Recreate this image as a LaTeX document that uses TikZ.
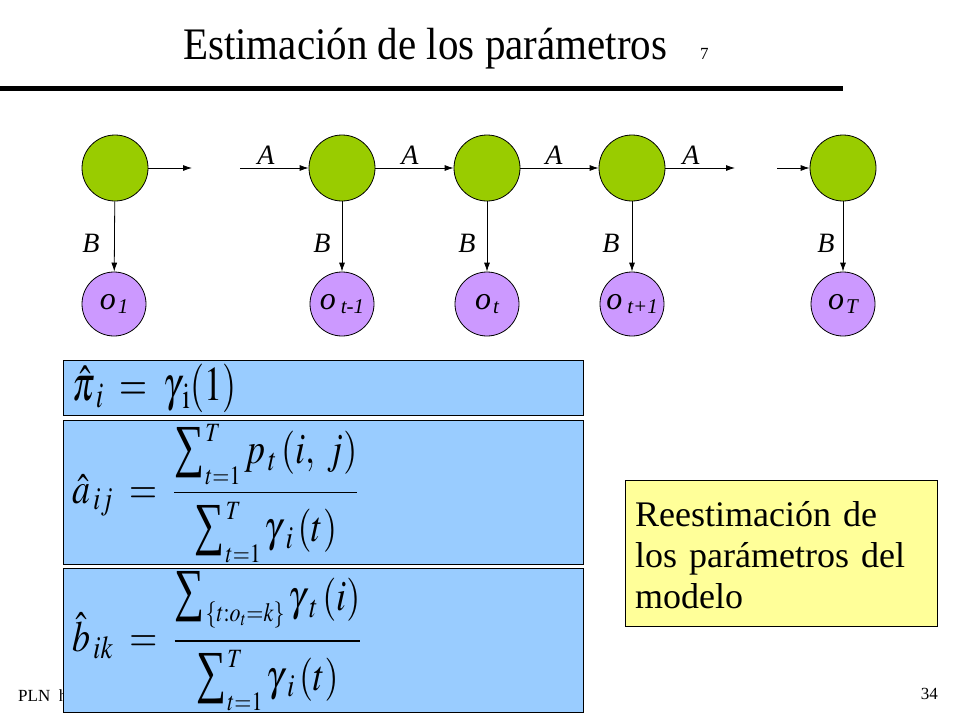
\documentclass[tikz,border=0pt]{standalone}
\usepackage{mathptmx}
\usepackage{fontspec}
\setmainfont{Liberation Serif}
\usetikzlibrary{arrows.meta}
\definecolor{hgreen}{HTML}{99CC00}
\definecolor{opurple}{HTML}{CC99FF}
\definecolor{mblue}{HTML}{99CCFF}
\definecolor{yel}{HTML}{FFFF99}
\newcommand\olab[2]{\textit{o}\hspace{#2pt}\raisebox{-0.3ex}{\fontsize{21}{21}\selectfont\itshape #1}}
\newsavebox\sumbox
\newcommand\SumLim[2]{\mathop{\vcenter{\hbox{%
  \sbox\sumbox{\resizebox*{30pt}{42pt}{∑}}%
  \usebox\sumbox\kern1pt
  \raisebox{-\dp\sumbox}{\vbox to \dimexpr\ht\sumbox+\dp\sumbox\relax{\vskip-3pt\hbox{\fontsize{22}{22}\selectfont$#2$}\vfil\hbox{\fontsize{22}{22}\selectfont$#1$}}}%
}}}}
\begin{document}
\begin{tikzpicture}[x=1pt,y=-1pt,
  hid/.style={circle, draw, line width=0.8pt, fill=hgreen, minimum size=66pt, inner sep=0pt},
  obs/.style={circle, draw, line width=0.8pt, fill=opurple, minimum size=64pt, inner sep=0pt, font=\fontsize{32}{32}\selectfont},
  arr/.style={line width=0.8pt, -{Latex[length=9pt,width=6pt]}},
  lab/.style={font=\fontsize{28}{28}\selectfont\itshape, inner sep=0pt, anchor=base},
  mbox/.style={draw, line width=0.8pt, fill=mblue, anchor=north west, minimum width=520pt, inner sep=0pt},
  mtext/.style={font=\fontsize{36}{36}\selectfont, inner sep=0pt, anchor=west}]
\useasboundingbox (0,0) rectangle (960,720);
% title
\node[font=\fontsize{41}{41}\selectfont, anchor=base west, inner sep=0pt] (title) at (183,59) {\scalebox{1}[1.1]{Estimación de los parámetros}};
\node[font=\fontsize{17}{17}\selectfont, anchor=base west, inner sep=0pt] (tnum) at (700,59) {7};
\draw[line width=5pt] (0,88) -- (843,88);
% hidden states
\node[hid] (h1) at (115,168) {};
\node[hid] (h2) at (342,168) {};
\node[hid] (h3) at (487,168) {};
\node[hid] (h4) at (632,168) {};
\node[hid] (h5) at (843,168) {};
% observations
\node[obs] (o1) at (114,304) {\olab{1}{2}};
\node[obs] (o2) at (342,304) {\olab{t-1}{5}};
\node[obs] (o3) at (487,304) {\olab{t}{2}};
\node[obs] (o4) at (632,304) {\olab{t+1}{5}};
\node[obs] (o5) at (843,304) {\olab{T}{2}};
% free ends
\coordinate (e1) at (192,168);
\coordinate (s2) at (240,168);
\coordinate (e4) at (735,168);
\coordinate (s5) at (777,168);
\draw[arr] (h1) -- (e1);
\draw[arr] (s2) -- (h2);
\draw[arr] (h2) -- (h3);
\draw[arr] (h3) -- (h4);
\draw[arr] (h4) -- (e4);
\draw[arr] (s5) -- (h5);
\foreach \i in {1,...,5} { \draw[arr] (h\i) -- (o\i); }
\node[lab] (a1) at (266,164) {A};
\node[lab] (a2) at (410,164) {A};
\node[lab] (a3) at (554,164) {A};
\node[lab] (a4) at (691,164) {A};
\node[lab] (b1) at (91,252) {B};
\node[lab] (b2) at (322,252) {B};
\node[lab] (b3) at (467,252) {B};
\node[lab] (b4) at (611,252) {B};
\node[lab] (b5) at (826,252) {B};
% footer
\node[font=\fontsize{17}{17}\selectfont, anchor=base west, inner sep=0pt] (foot) at (18,701) {PLN\ \ h};
\node[font=\fontsize{17}{17}\selectfont, anchor=base east, inner sep=0pt] (page) at (938,699) {34};
% formula boxes
\node[mbox, minimum height=55pt] (box1) at (63,360) {};
\node[mbox, minimum height=144pt] (box2) at (63,420) {};
\node[mbox, minimum height=144pt] (box3) at (63,568) {};
\node[mtext] (f1) at (72,388) {\scalebox{1}[1.35]{$\hat{\pi}_{\kern4pt i} \;=\; \gamma_{\kern4pt\mathrm{i}}(1)$}};
\node[mtext] (f2) at (72,492) {\scalebox{1}[1.2]{$\displaystyle \hat{a}_{\kern3pt ij} \;=\; \frac{\vrule width0pt depth19pt\SumLim{t{=}1}{T} p_{\,t}\,(i,\; j)}{\vrule width0pt height36pt\SumLim{t{=}1}{T}\gamma_{\;i}\,(t)}$}};
\node[mtext] (f3) at (72,638) {\scalebox{1}[1.2]{$\displaystyle \hat{b}_{\kern3pt ik} \;=\; \frac{\vrule width0pt depth20pt\SumLim{\{t{:}o_t{=}k\}}{}\gamma_{\;t}\,(i)}{\vrule width0pt height36pt\SumLim{t{=}1}{T}\gamma_{\;i}\,(t)}$}};
% note box
\node[draw, line width=0.8pt, fill=yel, anchor=north west, minimum width=312pt, minimum height=146pt, inner sep=0pt] (note) at (625,480) {};
\node[font=\fontsize{36}{41}\selectfont, anchor=base west, align=left, inner sep=0pt] (notetext) at (635,608) {\spaceskip=12pt Reestimación de\\\spaceskip=12pt los parámetros del\\modelo};
\end{tikzpicture}
\end{document}
